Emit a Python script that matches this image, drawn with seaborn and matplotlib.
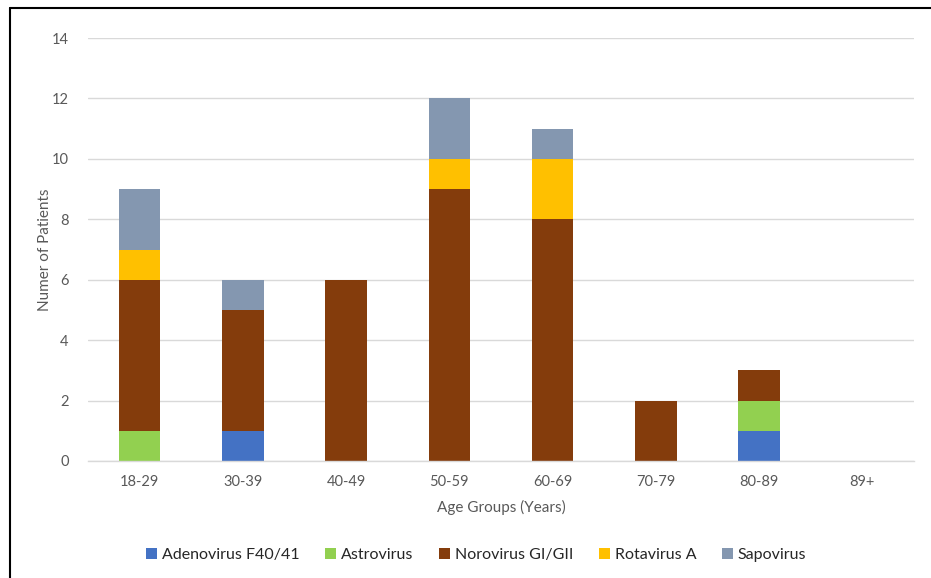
import matplotlib
matplotlib.use("Agg")
import matplotlib.pyplot as plt
import seaborn as sns
import numpy as np
import pandas as pd
from matplotlib.lines import Line2D
from matplotlib.patches import Patch

age_groups = ["18-29", "30-39", "40-49", "50-59", "60-69", "70-79", "80-89", "89+"]
adenovirus = [0, 1, 0, 0, 0, 0, 1, 0]
astrovirus = [1, 0, 0, 0, 0, 0, 1, 0]
norovirus = [5, 4, 6, 9, 8, 2, 1, 0]
rotavirus = [1, 0, 0, 1, 2, 0, 0, 0]
sapovirus = [2, 1, 0, 2, 1, 0, 0, 0]
series_names = ["Adenovirus F40/41", "Astrovirus", "Norovirus GI/GII", "Rotavirus A", "Sapovirus"]
colors = ["#4472C4", "#92D050", "#843C0C", "#FFC000", "#8497B0"]

sns.set_theme(style="white")
plt.rcParams['font.family'] = ['Lato', 'DejaVu Sans']

fig = plt.figure(figsize=(9.31, 5.78), dpi=100)
ax = fig.add_axes([88/931, 1-461/578, (914-88)/931, (461-38)/578])

series = [adenovirus, astrovirus, norovirus, rotavirus, sapovirus]
bottom = np.zeros(len(age_groups))
for name, vals, c in zip(series_names, series, colors):
    df = pd.DataFrame({"age": age_groups, "n": vals})
    sns.barplot(data=df, x="age", y="n", color=c, bottom=bottom, width=0.4,
                ax=ax, saturation=1, linewidth=0, errorbar=None)
    bottom = bottom + np.array(vals)

ax.set_ylim(0, 14)
ax.set_yticks(range(0, 15, 2))
ax.set_xlim(-0.5, len(age_groups) - 0.5)
ax.grid(axis="y", color="#D9D9D9", linewidth=1)
ax.set_axisbelow(True)
for s in ["top", "right", "left"]:
    ax.spines[s].set_visible(False)
ax.spines["bottom"].set_color("#D9D9D9")
ax.spines["bottom"].set_linewidth(1)
ax.tick_params(axis="both", colors="#595959", labelsize=10.5, length=0)
ax.tick_params(axis="x", pad=10)
ax.tick_params(axis="y", pad=14)
ax.set_xlabel("Age Groups (Years)", color="#595959", fontsize=11, labelpad=8)
ax.set_ylabel("Numer of Patients", color="#595959", fontsize=11, labelpad=0)

handles = [Patch(facecolor=c, edgecolor="none") for c in colors]
fig.legend(handles, series_names, loc="center", bbox_to_anchor=(476/931, 1-555/578),
           ncol=5, frameon=False, fontsize=11.5, handlelength=0.7, handleheight=0.7,
           handletextpad=0.3, columnspacing=1.6, labelcolor="#262626")

fig.add_artist(Line2D([9.5/931, 9.5/931], [0, 1-7.5/578], color="black", linewidth=1.5,
                      transform=fig.transFigure))
fig.add_artist(Line2D([9.5/931, 1], [1-7.5/578, 1-7.5/578], color="black", linewidth=1.5,
                      transform=fig.transFigure))

fig.savefig("out.png", dpi=100, facecolor="white")
